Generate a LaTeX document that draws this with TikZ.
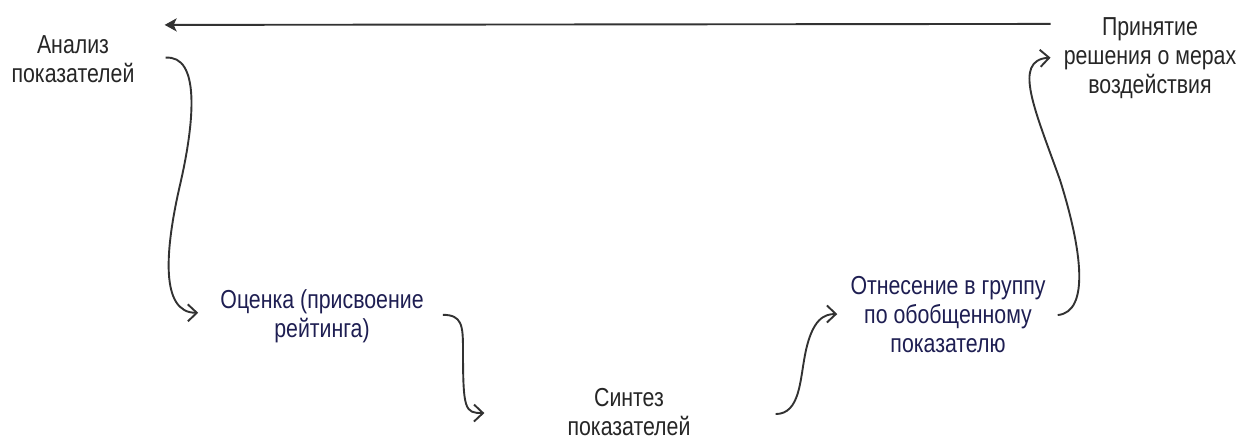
\documentclass[tikz,border=0pt]{standalone}
\usepackage{fontspec}
\setmainfont{Liberation Sans}[FakeStretch=0.82]
\usetikzlibrary{arrows.meta}

\definecolor{inkgray}{RGB}{38,38,38}
\definecolor{inknavy}{RGB}{30,30,82}
\definecolor{linegray}{RGB}{50,50,50}

\tikzset{
    stage/.style={inner sep=0pt,anchor=base,align=center,text=inkgray,
        font=\fontsize{26}{29}\selectfont},
    stagenavy/.style={stage,text=inknavy},
    curl/.style={draw=linegray,line width=1.9pt,
        -{Straight Barb[length=9pt,width=17pt,line width=1.9pt]}},
    back/.style={draw=linegray,line width=1.9pt,
        -{Stealth[length=12pt,width=13pt,inset=3pt]}}
}

\begin{document}
\begin{tikzpicture}[x=1pt,y=-1pt]

    \useasboundingbox (0,0) rectangle (1240,439);

    % stages (base = last line)
    \node[stage] (analiz) at (73,82) {Анализ\\показателей};
    \node[stagenavy] (ocenka) at (322,337) {Оценка (присвоение\\рейтинга)};
    \node[stage] (sintez) at (629,435) {Синтез\\показателей};
    \node[stagenavy] (otnesenie) at (948,352) {Отнесение в группу\\по обобщенному\\показателю};
    \node[stage] (prinyatie) at (1150,93) {Принятие\\решения о мерах\\воздействия};

    % curls between stages
    \draw[curl] ([xshift=31pt,yshift=1pt]analiz.east)
        .. controls (200,55) and (195,120) .. (180,185)
        .. controls (165,250) and (160,313) .. ([xshift=-22pt,yshift=3pt]ocenka.west);
    \draw[curl] ([xshift=19pt,yshift=1pt]ocenka.east)
        .. controls (462,315) and (463,325) .. (463,350)
        .. controls (463,410) and (465,413) .. ([xshift=-83pt,yshift=-1.5pt]sintez.west);
    \draw[curl] ([xshift=85pt,yshift=-2.5pt]sintez.east)
        .. controls (800,414) and (800,380) .. (805,355)
        .. controls (812,318) and (825,314) .. ([xshift=-13pt]otnesenie.west);
    \draw[curl] ([xshift=12pt,yshift=-1pt]otnesenie.east)
        .. controls (1090,312) and (1082,250) .. (1060,180)
        .. controls (1035,110) and (1012,60) .. ([xshift=-13pt]prinyatie.west);

    % back to the start
    \draw[back] ([xshift=-13pt,yshift=-7pt]prinyatie.north west)
        -- ([xshift=30pt,yshift=10pt]analiz.north east);

\end{tikzpicture}
\end{document}
